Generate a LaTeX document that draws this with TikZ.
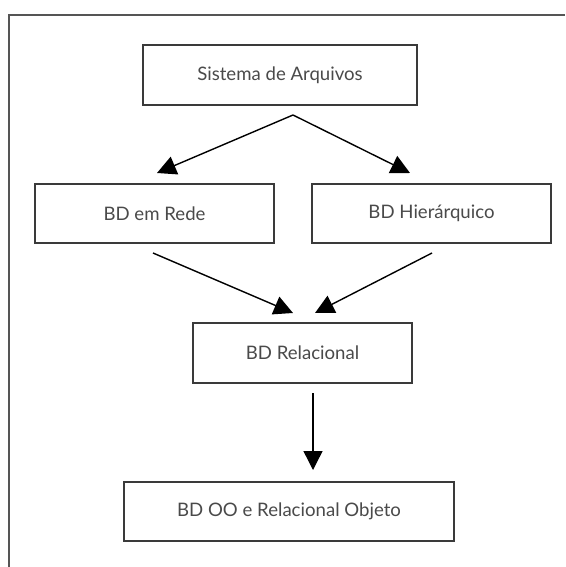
\documentclass[tikz,border=0pt]{standalone}
\usepackage{fontspec}
\setmainfont{Lato}
\usetikzlibrary{arrows.meta}
\definecolor{boxline}{HTML}{3A3A3A}
\definecolor{labeltext}{HTML}{4A4A4A}
\definecolor{frameline}{HTML}{555555}
\begin{document}
\begin{tikzpicture}[x=1pt,y=-1pt,
  stagebox/.style={draw=boxline,line width=1.8pt,fill=white,
    font=\fontsize{18.6}{21}\selectfont,text=labeltext},
  flow/.style={line width=1.4pt,-{Triangle[length=19pt,width=19pt]}}]
  \useasboundingbox (0,0) rectangle (565,567);
  % open frame: top and left edges only
  \draw[frameline,line width=2pt] (9,567) -- (9,15) -- (565,15);
  % stages
  \node[stagebox,minimum width=274pt,minimum height=60pt] (fs) at (280,75) {Sistema de Arquivos};
  \node[stagebox,minimum width=239pt,minimum height=59pt] (rede) at (154.5,213.5) {BD em Rede};
  \node[stagebox,minimum width=239pt,minimum height=59pt] (hier) at (431.5,213.5) {BD Hierárquico};
  \node[stagebox,minimum width=219pt,minimum height=60pt] (rel) at (302.5,353) {BD Relacional};
  \node[stagebox,minimum width=330pt,minimum height=59pt] (oo) at (289,511.5) {BD OO e Relacional Objeto};
  % connector anchor points
  \coordinate (split) at (293,115);
  \coordinate (redeT) at (157,173);
  \coordinate (hierT) at (410,173);
  \coordinate (redeS) at (153,253);
  \coordinate (hierS) at (432,253);
  \coordinate (relL) at (293,313);
  \coordinate (relR) at (315,313);
  \coordinate (relS) at (313,393);
  \coordinate (ooT) at (313,470);
  \draw[flow] (split) -- (redeT);
  \draw[flow] (split) -- (hierT);
  \draw[flow] (redeS) -- (relL);
  \draw[flow] (hierS) -- (relR);
  \draw[flow] (relS) -- (ooT);
\end{tikzpicture}
\end{document}
